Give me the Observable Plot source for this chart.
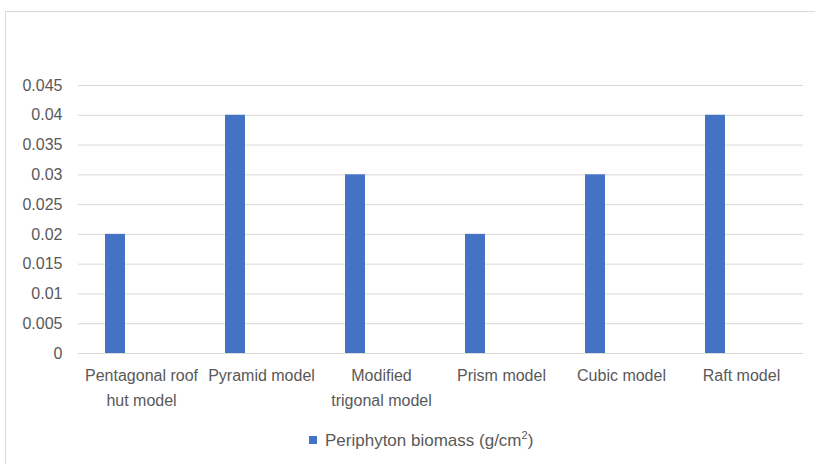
<!DOCTYPE html>
<html>
<head>
<meta charset="utf-8">
<script src="https://cdn.jsdelivr.net/npm/d3@7"></script>
<script src="https://cdn.jsdelivr.net/npm/@observablehq/plot@0.6"></script>
<style>
  body { margin: 0; background: #fff; }
  #wrap { position: relative; width: 815px; height: 464px; overflow: hidden; font-family: "Liberation Sans", Arial, sans-serif; }
  #frame { position: absolute; left: 5px; top: 11px; width: 830px; height: 480px; border: 1px solid #d9d9d9; box-sizing: border-box; }
  #chart { position: absolute; left: 0; top: 0; }
  #legend { position: absolute; left: 309px; top: 429px; font-size: 17px; color: #595959; display: flex; align-items: center; white-space: nowrap; }
  #legend .sw { width: 8px; height: 8px; background: #4472c4; margin-right: 8px; }
  #legend sup { font-size: 11px; }
</style>
</head>
<body>
<div id="wrap">
  <div id="frame"></div>
  <div id="chart"></div>
  <div id="legend"><span class="sw"></span><span>Periphyton biomass (g/cm<sup>2</sup>)</span></div>
</div>
<script>
const categories = ["Pentagonal roof hut model", "Pyramid model", "Modified trigonal model", "Prism model", "Cubic model", "Raft model"];
const tickLabels = ["Pentagonal roof\nhut model", "Pyramid model", "Modified\ntrigonal model", "Prism model", "Cubic model", "Raft model"];
const biomass = [0.02, 0.04, 0.03, 0.02, 0.03, 0.04];
const yTicks = [0, 0.005, 0.01, 0.015, 0.02, 0.025, 0.03, 0.035, 0.04, 0.045];

const data = categories.map((c, i) => ({category: c, value: biomass[i]}));
const labelOf = new Map(categories.map((c, i) => [c, tickLabels[i]]));

const chart = Plot.plot({
  width: 815,
  height: 420,
  marginTop: 85,
  marginBottom: 67,
  marginLeft: 78,
  marginRight: 12,
  style: { fontFamily: "'Liberation Sans', Arial, sans-serif", fontSize: "16px", color: "#595959", background: "transparent" },
  x: { domain: categories, padding: 0, label: null },
  y: { domain: [0, 0.045], label: null },
  marks: [
    Plot.gridY(yTicks, { stroke: "#d9d9d9", strokeOpacity: 1, strokeWidth: 1 }),
    Plot.barY(data, { x: "category", y: "value", fill: "#4472c4", insetLeft: 24, insetRight: 76 }),
    Plot.axisY(yTicks, { tickSize: 0, tickPadding: 16, tickFormat: d => String(d), fill: "#595959", fontSize: 16 }),
    Plot.axisX({ tickSize: 0, tickPadding: 10, tickFormat: d => labelOf.get(d), fill: "#595959", fontSize: 16, lineHeight: 1.55, textAnchor: "middle" })
  ]
});
document.getElementById("chart").appendChild(chart);
</script>
</body>
</html>
